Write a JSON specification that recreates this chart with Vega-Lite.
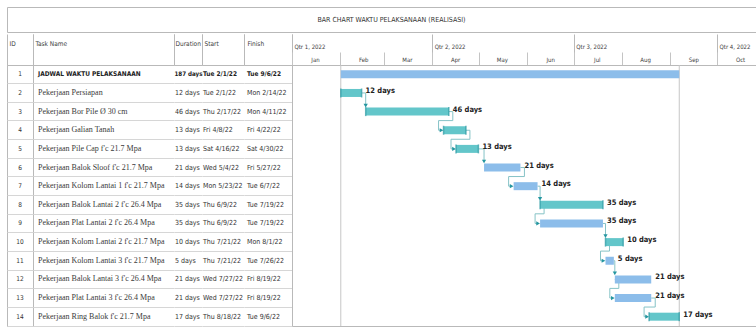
{
  "$schema": "https://vega.github.io/schema/vega-lite/v6.json",
  "padding": {"left": 6, "top": 6, "right": 0, "bottom": 0},
  "background": "#ffffff",
  "config": {
    "view": {"stroke": null},
    "font": "Liberation Sans Narrow, DejaVu Sans Condensed, sans-serif"
  },
  "datasets": {
    "caption": [{"text": "BAR CHART WAKTU PELAKSANAAN (REALISASI)"}],
    "tasks": [
      {"id": 1, "task": "JADWAL WAKTU PELAKSANAAN", "duration": "187 days", "start": "2022-02-01T08:00:00", "finish": "2022-09-06T17:00:00", "kind": "Summary"},
      {"id": 2, "task": "Pekerjaan Persiapan", "duration": "12 days", "start": "2022-02-01T08:00:00", "finish": "2022-02-14T17:00:00", "kind": "Critical"},
      {"id": 3, "task": "Pekerjaan Bor Pile Ø 30 cm", "duration": "46 days", "start": "2022-02-17T08:00:00", "finish": "2022-04-11T17:00:00", "kind": "Critical"},
      {"id": 4, "task": "Pekerjaan Galian Tanah", "duration": "13 days", "start": "2022-04-08T08:00:00", "finish": "2022-04-22T17:00:00", "kind": "Critical"},
      {"id": 5, "task": "Pekerjaan Pile Cap f'c 21.7 Mpa", "duration": "13 days", "start": "2022-04-16T08:00:00", "finish": "2022-04-30T17:00:00", "kind": "Critical"},
      {"id": 6, "task": "Pekerjaan Balok Sloof f'c 21.7 Mpa", "duration": "21 days", "start": "2022-05-04T08:00:00", "finish": "2022-05-27T17:00:00", "kind": "Task"},
      {"id": 7, "task": "Pekerjaan Kolom Lantai 1 f'c 21.7 Mpa", "duration": "14 days", "start": "2022-05-23T08:00:00", "finish": "2022-06-07T17:00:00", "kind": "Task"},
      {"id": 8, "task": "Pekerjaan Balok Lantai 2 f'c 26.4 Mpa", "duration": "35 days", "start": "2022-06-09T08:00:00", "finish": "2022-07-19T17:00:00", "kind": "Critical"},
      {"id": 9, "task": "Pekerjaan Plat Lantai 2 f'c 26.4 Mpa", "duration": "35 days", "start": "2022-06-09T08:00:00", "finish": "2022-07-19T17:00:00", "kind": "Task"},
      {"id": 10, "task": "Pekerjaan Kolom Lantai 2 f'c 21.7 Mpa", "duration": "10 days", "start": "2022-07-21T08:00:00", "finish": "2022-08-01T17:00:00", "kind": "Critical"},
      {"id": 11, "task": "Pekerjaan Kolom Lantai 3 f'c 21.7 Mpa", "duration": "5 days", "start": "2022-07-21T08:00:00", "finish": "2022-07-26T17:00:00", "kind": "Task"},
      {"id": 12, "task": "Pekerjaan Balok Lantai 3 f'c 26.4 Mpa", "duration": "21 days", "start": "2022-07-27T08:00:00", "finish": "2022-08-19T17:00:00", "kind": "Task"},
      {"id": 13, "task": "Pekerjaan Plat Lantai 3 f'c 26.4 Mpa", "duration": "21 days", "start": "2022-07-27T08:00:00", "finish": "2022-08-19T17:00:00", "kind": "Task"},
      {"id": 14, "task": "Pekerjaan Ring Balok f'c 21.7 Mpa", "duration": "17 days", "start": "2022-08-18T08:00:00", "finish": "2022-09-06T17:00:00", "kind": "Critical"}
    ],
    "links": [
      {"from": 2, "to": 3, "a": "2022-02-14T17:00:00", "s": "2022-02-17T08:00:00"},
      {"from": 3, "to": 4, "a": "2022-04-11T17:00:00", "s": "2022-04-08T08:00:00"},
      {"from": 4, "to": 5, "a": "2022-04-22T17:00:00", "s": "2022-04-16T08:00:00"},
      {"from": 5, "to": 6, "a": "2022-04-30T17:00:00", "s": "2022-05-04T08:00:00"},
      {"from": 6, "to": 7, "a": "2022-05-27T17:00:00", "s": "2022-05-23T08:00:00"},
      {"from": 7, "to": 8, "a": "2022-06-07T17:00:00", "s": "2022-06-09T08:00:00"},
      {"from": 8, "to": 9, "a": "2022-06-09T08:00:00", "s": "2022-06-09T08:00:00"},
      {"from": 9, "to": 10, "a": "2022-07-19T17:00:00", "s": "2022-07-21T08:00:00"},
      {"from": 10, "to": 11, "a": "2022-07-21T08:00:00", "s": "2022-07-21T08:00:00"},
      {"from": 11, "to": 12, "a": "2022-07-26T17:00:00", "s": "2022-07-27T08:00:00"},
      {"from": 12, "to": 13, "a": "2022-07-27T08:00:00", "s": "2022-07-27T08:00:00"},
      {"from": 13, "to": 14, "a": "2022-08-19T17:00:00", "s": "2022-08-18T08:00:00"}
    ]
  },
  "spacing": 0,
  "vconcat": [
    {
      "width": 749,
      "height": 25,
      "view": {"stroke": "#b9b9b9"},
      "data": {"name": "caption"},
      "mark": {"type": "text", "fontSize": 7, "dx": 10, "color": "#333333"},
      "encoding": {"text": {"field": "text"}}
    },
    {
      "spacing": 0,
      "bounds": "flush",
      "hconcat": [
        {
          "width": 26,
          "height": 261,
          "view": {"stroke": "#b9b9b9"},
          "data": {"name": "tasks"},
          "transform": [{"fold": ["id"], "as": ["col", "val"]}],
          "mark": {"type": "text", "fontSize": 6.5, "color": "#333333"},
          "encoding": {
            "x": {"field": "col", "type": "nominal", "scale": {"type": "band", "paddingInner": 0, "paddingOuter": 0},
              "axis": {"orient": "top", "title": "ID", "titleAnchor": "start", "titleAlign": "left", "titleBaseline": "bottom", "titleX": 2, "titleY": -19, "titleFontSize": 6.5, "titleFontWeight": "normal", "titleColor": "#3c3c3c", "labels": false, "tickBand": "extent", "grid": false, "domain": true, "domainColor": "#b9b9b9", "ticks": true, "tickSize": 31, "tickColor": "#b9b9b9"}},
            "y": {"field": "id", "type": "ordinal", "scale": {"type": "band", "paddingInner": 0, "paddingOuter": 0},
              "axis": {"title": null, "labels": false, "ticks": false, "domain": false, "grid": true, "gridColor": "#d6d6d6", "bandPosition": 1}},
            "text": {"field": "id"}
          }
        },
        {
          "width": 141,
          "height": 261,
          "data": {"name": "tasks"},
          "transform": [{"fold": ["task"], "as": ["col", "val"]}],
          "encoding": {
            "x": {"field": "col", "type": "nominal", "bandPosition": 0, "scale": {"type": "band", "paddingInner": 0, "paddingOuter": 0},
              "axis": {"orient": "top", "title": "Task Name", "titleAnchor": "start", "titleAlign": "left", "titleBaseline": "bottom", "titleX": 2, "titleY": -19, "titleFontSize": 6.5, "titleFontWeight": "normal", "titleColor": "#3c3c3c", "labels": false, "tickBand": "extent", "grid": false, "domain": true, "domainColor": "#b9b9b9", "ticks": true, "tickSize": 31, "tickColor": "#b9b9b9"}},
            "y": {"field": "id", "type": "ordinal", "scale": {"type": "band", "paddingInner": 0, "paddingOuter": 0},
              "axis": {"title": null, "labels": false, "ticks": false, "domain": false, "grid": true, "gridColor": "#d6d6d6", "bandPosition": 1}},
            "text": {"field": "task"}
          },
          "layer": [
            {
              "transform": [{"filter": "datum.id !== 1"}],
              "mark": {"type": "text", "align": "left", "dx": 5, "font": "Liberation Serif, serif", "fontSize": 8, "color": "#3a3a3a"}
            },
            {
              "transform": [{"filter": "datum.id === 1"}],
              "mark": {"type": "text", "align": "left", "dx": 5, "fontSize": 6.5, "fontWeight": "bold", "color": "#222222"}
            }
          ]
        },
        {
          "width": 28,
          "height": 261,
          "data": {"name": "tasks"},
          "transform": [{"fold": ["duration"], "as": ["col", "val"]}],
          "encoding": {
            "x": {"field": "col", "type": "nominal", "bandPosition": 0, "scale": {"type": "band", "paddingInner": 0, "paddingOuter": 0},
              "axis": {"orient": "top", "title": "Duration", "titleAnchor": "start", "titleAlign": "left", "titleBaseline": "bottom", "titleX": 1, "titleY": -19, "titleFontSize": 6.5, "titleFontWeight": "normal", "titleColor": "#3c3c3c", "labels": false, "tickBand": "extent", "grid": false, "domain": true, "domainColor": "#b9b9b9", "ticks": true, "tickSize": 31, "tickColor": "#b9b9b9"}},
            "y": {"field": "id", "type": "ordinal", "scale": {"type": "band", "paddingInner": 0, "paddingOuter": 0},
              "axis": {"title": null, "labels": false, "ticks": false, "domain": false, "grid": true, "gridColor": "#d6d6d6", "bandPosition": 1}},
            "text": {"field": "duration"}
          },
          "layer": [
            {
              "transform": [{"filter": "datum.id !== 1"}],
              "mark": {"type": "text", "align": "left", "dx": 1, "fontSize": 7, "color": "#333333"}
            },
            {
              "transform": [{"filter": "datum.id === 1"}],
              "mark": {"type": "text", "align": "left", "dx": 0.5, "fontSize": 6.2, "fontWeight": "bold", "color": "#222222"}
            }
          ]
        },
        {
          "width": 42,
          "height": 261,
          "data": {"name": "tasks"},
          "transform": [{"fold": ["start"], "as": ["col", "val"]}],
          "encoding": {
            "x": {"field": "col", "type": "nominal", "bandPosition": 0, "scale": {"type": "band", "paddingInner": 0, "paddingOuter": 0},
              "axis": {"orient": "top", "title": "Start", "titleAnchor": "start", "titleAlign": "left", "titleBaseline": "bottom", "titleX": 2, "titleY": -19, "titleFontSize": 6.5, "titleFontWeight": "normal", "titleColor": "#3c3c3c", "labels": false, "tickBand": "extent", "grid": false, "domain": true, "domainColor": "#b9b9b9", "ticks": true, "tickSize": 31, "tickColor": "#b9b9b9"}},
            "y": {"field": "id", "type": "ordinal", "scale": {"type": "band", "paddingInner": 0, "paddingOuter": 0},
              "axis": {"title": null, "labels": false, "ticks": false, "domain": false, "grid": true, "gridColor": "#d6d6d6", "bandPosition": 1}},
            "text": {"field": "start", "type": "temporal", "format": "%a %-m/%-d/%y"}
          },
          "layer": [
            {
              "transform": [{"filter": "datum.id !== 1"}],
              "mark": {"type": "text", "align": "left", "dx": 1, "fontSize": 7, "color": "#333333"}
            },
            {
              "transform": [{"filter": "datum.id === 1"}],
              "mark": {"type": "text", "align": "left", "dx": 1, "fontSize": 6.5, "fontWeight": "bold", "color": "#222222"}
            }
          ]
        },
        {
          "width": 48,
          "height": 261,
          "data": {"name": "tasks"},
          "transform": [{"fold": ["finish"], "as": ["col", "val"]}],
          "encoding": {
            "x": {"field": "col", "type": "nominal", "bandPosition": 0, "scale": {"type": "band", "paddingInner": 0, "paddingOuter": 0},
              "axis": {"orient": "top", "title": "Finish", "titleAnchor": "start", "titleAlign": "left", "titleBaseline": "bottom", "titleX": 3, "titleY": -19, "titleFontSize": 6.5, "titleFontWeight": "normal", "titleColor": "#3c3c3c", "labels": false, "tickBand": "extent", "grid": false, "domain": true, "domainColor": "#b9b9b9", "ticks": true, "tickSize": 31, "tickColor": "#b9b9b9"}},
            "y": {"field": "id", "type": "ordinal", "scale": {"type": "band", "paddingInner": 0, "paddingOuter": 0},
              "axis": {"title": null, "labels": false, "ticks": false, "domain": false, "grid": true, "gridColor": "#d6d6d6", "bandPosition": 1}},
            "text": {"field": "finish", "type": "temporal", "format": "%a %-m/%-d/%y"}
          },
          "layer": [
            {
              "transform": [{"filter": "datum.id !== 1"}],
              "mark": {"type": "text", "align": "left", "dx": 3, "fontSize": 7, "color": "#333333"}
            },
            {
              "transform": [{"filter": "datum.id === 1"}],
              "mark": {"type": "text", "align": "left", "dx": 3, "fontSize": 6.5, "fontWeight": "bold", "color": "#222222"}
            }
          ]
        },
        {
          "width": 464,
          "height": 261,
          "view": {"stroke": "#b9b9b9"},
          "resolve": {"axis": {"x": "independent"}},
          "layer": [
            {
              "data": {"name": "tasks"},
              "transform": [{"filter": "datum.id === 1"}],
              "mark": {"type": "rule", "color": "#c6c6c6", "strokeWidth": 1},
              "encoding": {
                "x": {"field": "start", "type": "temporal",
                  "scale": {"domain": [{"year": 2022, "month": 1, "date": 1}, {"year": 2022, "month": 10, "date": 26}], "nice": false},
                  "axis": {"orient": "top", "title": null, "grid": false, "domain": false, "ticks": true, "tickSize": 31, "tickColor": "#b9b9b9", "tickCount": {"interval": "month", "step": 3}, "labelExpr": "'Qtr ' + quarter(datum.value) + ', ' + year(datum.value)", "labelAlign": "left", "labelBaseline": "bottom", "labelOffset": 2, "labelPadding": -15, "labelFontSize": 6, "labelColor": "#3c3c3c", "labelFlush": false, "labelOverlap": false, "labelBound": false}}
              }
            },
            {
              "data": {"name": "tasks"},
              "transform": [{"filter": "datum.id === 1"}],
              "mark": {"type": "rule", "color": "#c6c6c6", "strokeWidth": 1},
              "encoding": {"x": {"field": "finish", "type": "temporal", "axis": null}}
            },
            {
              "data": {"name": "links"},
              "transform": [{"filter": "time(datum.s) > time(datum.a)"}],
              "mark": {"type": "rule", "color": "#86c3c7", "strokeWidth": 1},
              "encoding": {
                "x": {"field": "a", "type": "temporal", "axis": null},
                "x2": {"field": "s"},
                "y": {"field": "from", "type": "ordinal", "axis": null}
              }
            },
            {
              "data": {"name": "links"},
              "transform": [{"filter": "time(datum.s) > time(datum.a)"}],
              "mark": {"type": "rule", "color": "#86c3c7", "strokeWidth": 1, "y2Offset": -6},
              "encoding": {
                "x": {"field": "s", "type": "temporal", "axis": null},
                "y": {"field": "from", "type": "ordinal", "axis": null},
                "y2": {"field": "to"}
              }
            },
            {
              "data": {"name": "links"},
              "transform": [{"filter": "time(datum.s) > time(datum.a)"}],
              "mark": {"type": "point", "shape": "triangle-down", "filled": true, "size": 18, "opacity": 1, "color": "#2496a0", "yOffset": -6},
              "encoding": {
                "x": {"field": "s", "type": "temporal", "axis": null},
                "y": {"field": "to", "type": "ordinal", "axis": null}
              }
            },
            {
              "data": {"name": "links"},
              "transform": [{"filter": "time(datum.s) <= time(datum.a)"}],
              "mark": {"type": "rule", "color": "#86c3c7", "strokeWidth": 1, "x2Offset": 4},
              "encoding": {
                "x": {"field": "a", "type": "temporal", "axis": null},
                "x2": {"field": "a"},
                "y": {"field": "from", "type": "ordinal", "axis": null}
              }
            },
            {
              "data": {"name": "links"},
              "transform": [{"filter": "time(datum.s) <= time(datum.a)"}],
              "mark": {"type": "rule", "color": "#86c3c7", "strokeWidth": 1, "xOffset": 4, "y2Offset": 9},
              "encoding": {
                "x": {"field": "a", "type": "temporal", "axis": null},
                "y": {"field": "from", "type": "ordinal", "axis": null},
                "y2": {"field": "from"}
              }
            },
            {
              "data": {"name": "links"},
              "transform": [{"filter": "time(datum.s) <= time(datum.a)"}],
              "mark": {"type": "rule", "color": "#86c3c7", "strokeWidth": 1, "xOffset": -5, "x2Offset": 4, "yOffset": 9},
              "encoding": {
                "x": {"field": "s", "type": "temporal", "axis": null},
                "x2": {"field": "a"},
                "y": {"field": "from", "type": "ordinal", "axis": null}
              }
            },
            {
              "data": {"name": "links"},
              "transform": [{"filter": "time(datum.s) <= time(datum.a)"}],
              "mark": {"type": "rule", "color": "#86c3c7", "strokeWidth": 1, "xOffset": -5, "yOffset": 9},
              "encoding": {
                "x": {"field": "s", "type": "temporal", "axis": null},
                "y": {"field": "from", "type": "ordinal", "axis": null},
                "y2": {"field": "to"}
              }
            },
            {
              "data": {"name": "links"},
              "transform": [{"filter": "time(datum.s) <= time(datum.a)"}],
              "mark": {"type": "rule", "color": "#86c3c7", "strokeWidth": 1, "xOffset": -5, "x2Offset": -2},
              "encoding": {
                "x": {"field": "s", "type": "temporal", "axis": null},
                "x2": {"field": "s"},
                "y": {"field": "to", "type": "ordinal", "axis": null}
              }
            },
            {
              "data": {"name": "tasks"},
              "mark": {"type": "bar", "size": 8, "cornerRadius": 0},
              "encoding": {
                "x": {"field": "start", "type": "temporal",
                  "axis": {"orient": "top", "title": null, "grid": false, "domain": true, "domainColor": "#b9b9b9", "ticks": true, "tickSize": 13, "tickColor": "#c4c4c4", "tickCount": {"interval": "month", "step": 1}, "format": "%b", "labelAlign": "center", "labelBaseline": "bottom", "labelOffset": 23, "labelPadding": -10, "labelFontSize": 6, "labelColor": "#3c3c3c", "labelFlush": false, "labelOverlap": false, "labelBound": false}},
                "x2": {"field": "finish"},
                "y": {"field": "id", "type": "ordinal", "scale": {"type": "band", "domain": [1, 2, 3, 4, 5, 6, 7, 8, 9, 10, 11, 12, 13, 14], "paddingInner": 0, "paddingOuter": 0}, "axis": null},
                "color": {"field": "kind", "type": "nominal", "scale": {"domain": ["Summary", "Critical", "Task"], "range": ["#8cbdea", "#63c6ca", "#8cbdea"]}, "legend": null}
              }
            },
            {
              "data": {"name": "tasks"},
              "transform": [{"filter": "datum.kind === 'Critical'"}],
              "mark": {"type": "tick", "thickness": 1.5, "size": 9, "color": "#2a98a2"},
              "encoding": {
                "x": {"field": "start", "type": "temporal", "axis": null},
                "y": {"field": "id", "type": "ordinal", "axis": null}
              }
            },
            {
              "data": {"name": "tasks"},
              "transform": [{"filter": "datum.kind === 'Critical'"}],
              "mark": {"type": "tick", "thickness": 1.5, "size": 9, "color": "#2a98a2"},
              "encoding": {
                "x": {"field": "finish", "type": "temporal", "axis": null},
                "y": {"field": "id", "type": "ordinal", "axis": null}
              }
            },
            {
              "data": {"name": "links"},
              "transform": [{"filter": "time(datum.s) <= time(datum.a)"}],
              "mark": {"type": "point", "shape": "triangle-right", "filled": true, "size": 18, "opacity": 1, "color": "#2496a0", "xOffset": -2},
              "encoding": {
                "x": {"field": "s", "type": "temporal", "axis": null},
                "y": {"field": "to", "type": "ordinal", "axis": null}
              }
            },
            {
              "data": {"name": "tasks"},
              "transform": [{"filter": "datum.id !== 1 && datum.id !== 4"}],
              "mark": {"type": "text", "align": "left", "dx": 4, "dy": -2, "fontSize": 7.5, "fontWeight": "bold", "color": "#222222"},
              "encoding": {
                "x": {"field": "finish", "type": "temporal", "axis": null},
                "y": {"field": "id", "type": "ordinal", "axis": null},
                "text": {"field": "duration"}
              }
            }
          ]
        }
      ]
    }
  ]
}
